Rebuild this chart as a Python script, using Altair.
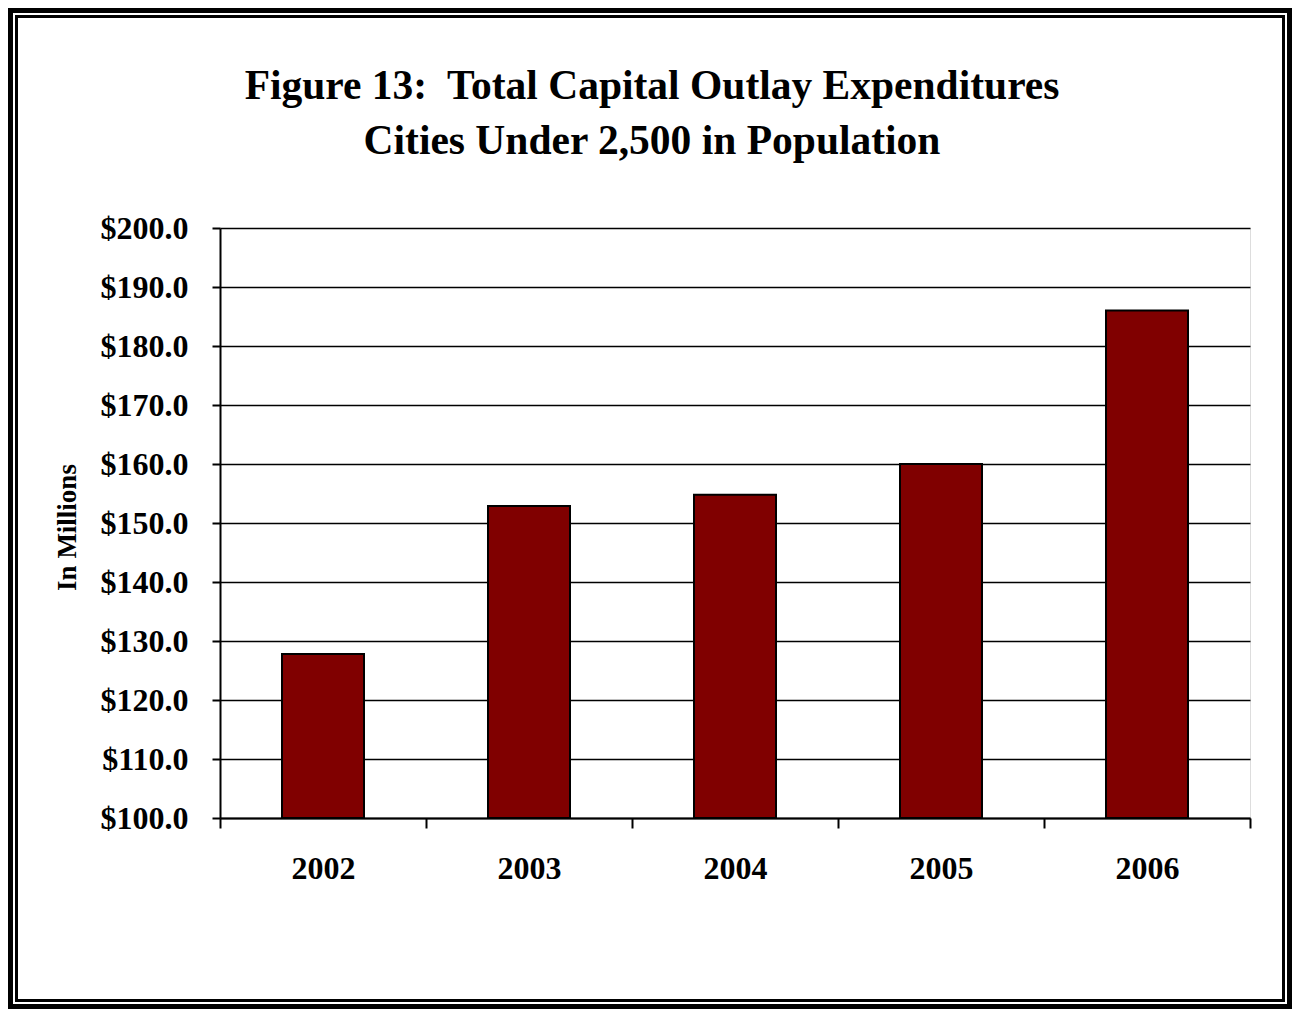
import altair as alt
import pandas as pd

years = ["2002", "2003", "2004", "2005", "2006"]
values = [127.8, 152.9, 154.8, 160.0, 186.0]
y_ticks = [100, 110, 120, 130, 140, 150, 160, 170, 180, 190, 200]
y_base = 100
title_lines = ["Figure 13:\u00a0 Total Capital Outlay Expenditures", "Cities Under 2,500 in Population"]
y_title = "In Millions"

df = pd.DataFrame({"year": years, "value": values})

FONT = "Liberation Serif"
W, H = 1030, 590
PAD_L, PAD_T = 212, 220
TOTAL_W, TOTAL_H = 1284, 1001

bars = alt.Chart(df).mark_bar(size=82, color="#800000", stroke="black", strokeWidth=2).encode(
    x=alt.X("year:N", sort=years, title=None,
            scale=alt.Scale(paddingInner=0, paddingOuter=0),
            axis=alt.Axis(labelAngle=0, tickBand="extent", domainColor="black", domainWidth=2,
                          tickColor="black", tickWidth=2, tickSize=10, labelPadding=25,
                          labelFont=FONT, labelFontSize=32, labelFontWeight="bold", labelColor="black")),
    y=alt.Y("value:Q", scale=alt.Scale(domain=[100, 200], nice=False, zero=False),
            title=y_title,
            axis=alt.Axis(values=y_ticks, format="$.1f", grid=True, gridColor="black", gridWidth=1.5,
                          domainColor="black", domainWidth=2, tickColor="black", tickWidth=2, tickSize=8,
                          labelPadding=24, labelFont=FONT, labelFontSize=32, labelFontWeight="bold",
                          labelColor="black", titleFont=FONT, titleFontSize=27, titleFontWeight="bold",
                          titleColor="black", titleX=-153, titleY=299, titleAlign="center",
                          titleBaseline="middle", titleAngle=270)),
    y2=alt.datum(y_base),
)

frame_data = alt.Data(values=[{"k": 1}])
outer = alt.Chart(frame_data).mark_rect(fill=None, stroke="black", strokeWidth=5, clip=False).encode(
    x=alt.value(2.5 - PAD_L), x2=alt.value(TOTAL_W - 2.5 - PAD_L),
    y=alt.value(2.5 - PAD_T), y2=alt.value(TOTAL_H - 2.5 - PAD_T))
inner = alt.Chart(frame_data).mark_rect(fill=None, stroke="black", strokeWidth=3, clip=False).encode(
    x=alt.value(8.5 - PAD_L), x2=alt.value(TOTAL_W - 8.5 - PAD_L),
    y=alt.value(8.5 - PAD_T), y2=alt.value(TOTAL_H - 8.5 - PAD_T))

chart = alt.layer(bars, outer, inner).properties(
    width=W, height=H,
    autosize=alt.AutoSizeParams(type="none"),
    padding={"left": PAD_L, "top": PAD_T, "right": TOTAL_W - PAD_L - W, "bottom": TOTAL_H - PAD_T - H},
    title=alt.TitleParams(text=title_lines, font=FONT, fontSize=41.5, fontWeight="bold", color="black",
                          anchor="middle", frame="group", dx=-83, baseline="bottom", offset=-196,
                          lineHeight=55),
).configure_view(stroke="#808080", strokeWidth=2).configure(background="white")

chart.save("out.html", embed_options={"renderer": "svg", "actions": False})
